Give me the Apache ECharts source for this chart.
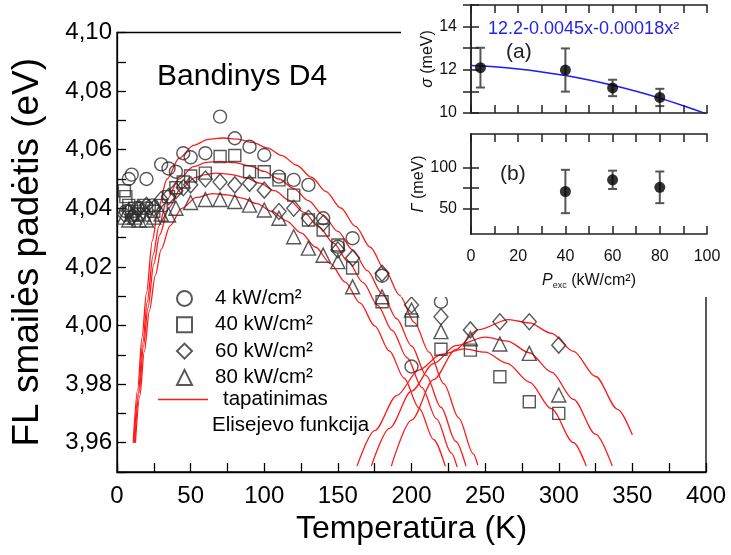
<!DOCTYPE html>
<html><head><meta charset="utf-8">
<script src="https://cdn.jsdelivr.net/npm/echarts@6/dist/echarts.min.js"></script>
<style>html,body{margin:0;padding:0;background:#fff}#c{width:731px;height:555px}</style>
</head><body><div id="c"></div>
<script>
const FONT = '"Liberation Sans", Arial, Helvetica, sans-serif';
const seriesNames = ['4 kW/cm²', '40 kW/cm²', '60 kW/cm²', '80 kW/cm²'];
const fitName = 'tapatinimas';
const fitNote = 'Elisejevo funkcija';
const sampleLabel = 'Bandinys D4';
const xTitle = 'Temperatūra (K)';
const yTitle = 'FL smailės padėtis (eV)';
const formulaText = '12.2-0.0045x-0.00018x²';

// data: temperature (K) and peak position (eV)
const circleT = [6, 8, 10, 14, 20, 24, 30, 35, 40, 45, 50, 60, 70, 80, 90, 100, 110, 120, 130, 140, 150, 160, 180, 200, 220];
const circleV = [4.039, 4.050, 4.0515, 4.040, 4.050, 4.041, 4.055, 4.0536, 4.0525, 4.0588, 4.0574, 4.0588, 4.0713, 4.0639, 4.061, 4.0582, 4.0508, 4.0497, 4.048, 4.0366, 4.0269, 4.0298, 4.017, 3.986, 4.0081];
const squareT = [5, 6, 8, 10, 12, 15, 18, 20, 25, 30, 35, 40, 45, 50, 60, 70, 80, 90, 100, 110, 120, 130, 140, 150, 160, 180, 200, 220, 240, 260, 280, 300];
const squareV = [4.046, 4.044, 4.041, 4.039, 4.040, 4.038, 4.041, 4.040, 4.039, 4.041, 4.044, 4.047, 4.049, 4.051, 4.052, 4.0577, 4.058, 4.0525, 4.0525, 4.0497, 4.0445, 4.036, 4.0326, 4.0275, 4.0196, 4.0081, 4.0019, 3.9919, 3.9916, 3.9825, 3.974, 3.970];
const diamondT = [5, 8, 10, 12, 15, 18, 20, 25, 30, 35, 40, 45, 50, 60, 70, 80, 90, 100, 110, 120, 130, 140, 150, 160, 180, 200, 220, 240, 260, 280, 300];
const diamondV = [4.038, 4.039, 4.037, 4.038, 4.040, 4.039, 4.041, 4.040, 4.043, 4.044, 4.046, 4.047, 4.048, 4.050, 4.049, 4.048, 4.0485, 4.0462, 4.0389, 4.040, 4.0366, 4.0349, 4.0258, 4.023, 4.0178, 4.007, 4.003, 3.9985, 4.0013, 4.0013, 3.9933];
const triangleT = [5, 8, 10, 12, 15, 18, 20, 25, 30, 35, 40, 50, 60, 70, 80, 90, 100, 110, 120, 130, 140, 150, 160, 180, 200, 220, 240, 260, 280, 300];
const triangleV = [4.037, 4.036, 4.038, 4.037, 4.036, 4.038, 4.036, 4.037, 4.038, 4.0377, 4.040, 4.042, 4.043, 4.043, 4.0423, 4.0411, 4.0394, 4.0366, 4.0303, 4.0264, 4.024, 4.0218, 4.0132, 4.0098, 4.0053, 3.9979, 3.9955, 3.9937, 3.9905, 3.9763];

// fitted Elisejev curves [T, E]
const fitCircleLow = [[11,3.96],[14,3.978],[17,3.996],[20,4.011],[24,4.029],[28,4.040],[34,4.050],[42,4.057],[52,4.0615],[62,4.0635],[72,4.064],[82,4.0636],[92,4.0625],[102,4.0606],[112,4.058],[122,4.0547],[132,4.0506],[142,4.0457],[152,4.0401],[162,4.0338],[172,4.0267],[182,4.0189],[192,4.0103],[202,4.001],[212,3.9909],[222,3.9801],[232,3.9685],[242,3.9562],[245,3.9524]];
const fitSquareLow = [[11.5,3.96],[14.5,3.977],[17.5,3.994],[20.5,4.008],[24.5,4.024],[28.5,4.034],[34,4.043],[42,4.050],[52,4.0542],[61,4.0557],[70,4.056],[80,4.0556],[90,4.0545],[100,4.0526],[110,4.05],[120,4.0467],[130,4.0426],[140,4.0377],[150,4.0321],[160,4.0258],[170,4.0187],[180,4.0109],[190,4.0023],[200,3.993],[210,3.9829],[220,3.9721],[230,3.9605],[237,3.952]];
const fitDiamondLow = [[12,3.96],[15,3.977],[18,3.993],[21,4.006],[25,4.021],[29,4.031],[35,4.040],[43,4.0465],[53,4.0505],[60,4.0515],[67,4.052],[77,4.0516],[87,4.0505],[97,4.0486],[107,4.046],[117,4.0427],[127,4.0386],[137,4.0337],[147,4.0281],[157,4.0218],[167,4.0147],[177,4.0069],[187,3.9983],[197,3.989],[207,3.9789],[217,3.9681],[227,3.9565],[231,3.9517]];
const fitTriangleLow = [[12.5,3.96],[15.5,3.976],[18.5,3.991],[22,4.005],[26,4.017],[30,4.026],[36,4.034],[44,4.040],[54,4.0437],[65,4.045],[75,4.0446],[85,4.0435],[95,4.0416],[105,4.039],[115,4.0357],[125,4.0316],[135,4.0267],[145,4.0211],[155,4.0148],[165,4.0077],[175,3.9999],[185,3.9913],[195,3.982],[205,3.9719],[215,3.9611],[223,3.9519]];
const fitSquareHigh = [[163,3.952],[175,3.9641],[190,3.9761],[205,3.9848],[220,3.9901],[236,3.992],[250,3.9909],[265,3.9871],[280,3.9807],[295,3.9716],[310,3.960],[318.7,3.952]];
const fitTriangleHigh = [[172.7,3.952],[185,3.9649],[200,3.9776],[215,3.987],[230,3.9931],[250,3.996],[265,3.9947],[280,3.9907],[295,3.9841],[310,3.9748],[325,3.9629],[336.4,3.952]];
const fitDiamondHigh = [[186.3,3.952],[200,3.9677],[215,3.9815],[230,3.9918],[245,3.9985],[266,4.002],[280,4.0009],[295,3.9973],[310,3.9912],[325,3.9826],[340,3.9714],[350,3.9626]];

// inset (a): sigma vs excitation power
const powerA = [4, 40, 60, 80];
const sigmaV = [12.1, 11.99, 11.16, 10.72];
const sigmaErr = [0.92, 1.0, 0.38, 0.4];
const sigmaFitX = [0, 10, 20, 30, 40, 50, 60, 70, 80, 90, 100];
const sigmaFitV = [12.2, 12.137, 12.038, 11.903, 11.732, 11.525, 11.282, 11.003, 10.688, 10.337, 9.95];
// inset (b): Gamma vs excitation power
const powerB = [40, 60, 80];
const gammaV = [71, 85, 76];
const gammaErr = [26, 11, 19];

const zip = (a, b) => a.map((v, i) => [v, b[i]]);
const zip3 = (a, b, c) => a.map((v, i) => [v, b[i], c[i]]);

const MK = '#2e2e2e';
const RED = '#ff1a1a';
const mkStyle = {color: 'rgba(0,0,0,0)', borderColor: MK, borderWidth: 1.4};

function scatter(name, sym, size, data) {
  return {type: 'scatter', name, symbol: sym, symbolSize: size, data, itemStyle: mkStyle, z: 3, xAxisIndex: 0, yAxisIndex: 0};
}
function fit(data) {
  return {type: 'line', name: fitName, data, showSymbol: false, symbol: 'none', smooth: 0.3, smoothMonotone: 'x',
    lineStyle: {color: RED, width: 1.3}, itemStyle: {color: RED}, z: 2, xAxisIndex: 0, yAxisIndex: 0};
}
function errBars(data, xi, yi) {
  return {type: 'custom', xAxisIndex: xi, yAxisIndex: yi, zlevel: 1, z: 5, data,
    renderItem: (p, api) => {
      const x = api.value(0), y = api.value(1), e = api.value(2);
      const t = api.coord([x, y + e]), b = api.coord([x, y - e]);
      const st = {stroke: '#555', lineWidth: 2};
      return {type: 'group', children: [
        {type: 'line', shape: {x1: t[0], y1: t[1], x2: b[0], y2: b[1]}, style: st},
        {type: 'line', shape: {x1: t[0] - 4.5, y1: t[1], x2: t[0] + 4.5, y2: t[1]}, style: st},
        {type: 'line', shape: {x1: b[0] - 4.5, y1: b[1], x2: b[0] + 4.5, y2: b[1]}, style: st}
      ]};
    }};
}

const insetLine = {lineStyle: {color: '#222', width: 1.5}};
const insetTick = {inside: true, length: 8, lineStyle: {color: '#222', width: 1.5}};
const insetLabel = {fontSize: 16, color: '#111', fontFamily: FONT};

const option = {
  animation: false,
  backgroundColor: '#fff',
  textStyle: {fontFamily: FONT},
  grid: [
    {left: 117, top: 32.5, width: 589, height: 439.5, show: true, borderColor: '#000', borderWidth: 1.3, backgroundColor: 'rgba(0,0,0,0)'},
    {left: 471, top: 5, width: 236, height: 108},
    {left: 471, top: 134, width: 236, height: 100}
  ],
  xAxis: [
    {gridIndex: 0, type: 'value', min: 0, max: 400, interval: 25,
      axisLine: {lineStyle: {color: '#000', width: 1.3}},
      axisTick: {inside: true, length: 9, lineStyle: {color: '#000', width: 1.3}},
      axisLabel: {fontSize: 24, color: '#000', margin: 12, formatter: v => (v % 50 === 0 ? String(v) : '')},
      splitLine: {show: false},
      name: xTitle, nameLocation: 'middle', nameGap: 38,
      nameTextStyle: {fontSize: 32, color: '#000', verticalAlign: 'top'}},
    {gridIndex: 1, type: 'value', min: 0, max: 100, interval: 10, zlevel: 1, z: 5,
      axisLine: insetLine, axisTick: insetTick, axisLabel: {show: false}, splitLine: {show: false}},
    {gridIndex: 1, type: 'value', min: 0, max: 100, interval: 10, position: 'top', zlevel: 1, z: 5,
      axisLine: insetLine, axisTick: insetTick, axisLabel: {show: false}, splitLine: {show: false}},
    {gridIndex: 2, type: 'value', min: 0, max: 100, interval: 10, zlevel: 1, z: 5,
      axisLine: insetLine, axisTick: insetTick,
      axisLabel: Object.assign({margin: 15, formatter: v => (v % 20 === 0 ? String(v) : '')}, insetLabel),
      splitLine: {show: false},
      name: '{i|P}{s|exc}{n| (kW/cm²)}', nameLocation: 'middle', nameGap: 38,
      nameTextStyle: {verticalAlign: 'top', rich: {
        i: {fontSize: 16, fontStyle: 'italic', color: '#111', fontFamily: FONT, lineHeight: 18},
        s: {fontSize: 9, color: '#111', fontFamily: FONT, lineHeight: 11, verticalAlign: 'bottom'},
        n: {fontSize: 16, color: '#111', fontFamily: FONT, lineHeight: 18}}}},
    {gridIndex: 2, type: 'value', min: 0, max: 100, interval: 10, position: 'top', zlevel: 1, z: 5,
      axisLine: insetLine, axisTick: insetTick, axisLabel: {show: false}, splitLine: {show: false}}
  ],
  yAxis: [
    {gridIndex: 0, type: 'value', min: 3.95, max: 4.10, interval: 0.01,
      axisLine: {lineStyle: {color: '#000', width: 1.3}},
      axisTick: {inside: true, length: 9, lineStyle: {color: '#000', width: 1.3}},
      axisLabel: {fontSize: 24, color: '#000', margin: 5, formatter: v => {
        const h = Math.round(v * 100);
        return h % 2 === 0 ? (h / 100).toFixed(2).replace('.', ',') : '';
      }},
      splitLine: {show: false},
      name: yTitle, nameLocation: 'middle', nameGap: 71,
      nameTextStyle: {fontSize: 37, color: '#000'}},
    {gridIndex: 1, type: 'value', min: 10, max: 15, interval: 1, zlevel: 1, z: 5,
      axisLine: insetLine, axisTick: insetTick,
      axisLabel: Object.assign({margin: 14, formatter: v => (v % 2 === 0 ? String(v) : '')}, insetLabel),
      splitLine: {show: false},
      name: '{i|σ}{n| (meV)}', nameLocation: 'middle', nameGap: 30,
      nameTextStyle: {rich: {
        i: {fontSize: 16, fontStyle: 'italic', color: '#111', fontFamily: FONT},
        n: {fontSize: 16, color: '#111', fontFamily: FONT}}}},
    {gridIndex: 1, type: 'value', min: 10, max: 15, interval: 1, position: 'right', zlevel: 1, z: 5,
      axisLine: insetLine, axisTick: insetTick, axisLabel: {show: false}, splitLine: {show: false}},
    {gridIndex: 2, type: 'value', min: 20, max: 140, zlevel: 1, z: 5,
      axisLine: insetLine, axisTick: Object.assign({customValues: [50, 75, 100]}, insetTick),
      axisLabel: Object.assign({margin: 14, customValues: [50, 100]}, insetLabel),
      splitLine: {show: false},
      name: '{i|Γ}{n| (meV)}', nameLocation: 'middle', nameGap: 38,
      nameTextStyle: {rich: {
        i: {fontSize: 16, fontStyle: 'italic', color: '#111', fontFamily: FONT},
        n: {fontSize: 16, color: '#111', fontFamily: FONT}}}},
    {gridIndex: 2, type: 'value', min: 20, max: 140, position: 'right', zlevel: 1, z: 5,
      axisLine: insetLine, axisTick: Object.assign({customValues: [50, 75, 100]}, insetTick),
      axisLabel: {show: false}, splitLine: {show: false}}
  ],
  legend: [
    {data: seriesNames, orient: 'vertical', left: 171, top: 283, itemWidth: 15, itemHeight: 15, itemGap: 5.3,
      selectedMode: false, textStyle: {fontSize: 20.5, color: '#000', fontFamily: FONT, lineHeight: 20, padding: [0, 0, 0, 18]}},
    {data: [{name: fitName, icon: 'rect'}], orient: 'vertical', left: 153, top: 384, itemWidth: 50, itemHeight: 1.6,
      selectedMode: false, textStyle: {fontSize: 20.5, color: '#000', fontFamily: FONT, lineHeight: 20, padding: [0, 0, 0, 10]}}
  ],
  graphic: [
    {type: 'rect', zlevel: 1, z: 0, shape: {x: 401, y: 0, width: 330, height: 297}, style: {fill: '#fff'}},
    {type: 'text', x: 157, y: 77, style: {text: sampleLabel, fontSize: 30, fontFamily: FONT, fill: '#000', verticalAlign: 'middle'}},
    {type: 'text', x: 212, y: 425, style: {text: fitNote, fontSize: 20.5, fontFamily: FONT, fill: '#000', verticalAlign: 'middle'}},
    {type: 'text', zlevel: 1, z: 10, x: 488, y: 29, style: {text: formulaText, fontSize: 18, fontFamily: FONT, fill: '#2424e6', verticalAlign: 'middle'}},
    {type: 'text', zlevel: 1, z: 10, x: 506, y: 52, style: {text: '(a)', fontSize: 21, fontFamily: FONT, fill: '#222', verticalAlign: 'middle'}},
    {type: 'text', zlevel: 1, z: 10, x: 500, y: 174, style: {text: '(b)', fontSize: 21, fontFamily: FONT, fill: '#222', verticalAlign: 'middle'}}
  ],
  series: [
    fit(fitCircleLow), fit(fitSquareLow), fit(fitDiamondLow), fit(fitTriangleLow),
    fit(fitSquareHigh), fit(fitTriangleHigh), fit(fitDiamondHigh),
    scatter(seriesNames[0], 'circle', 13, zip(circleT, circleV)),
    scatter(seriesNames[1], 'rect', 12, zip(squareT, squareV)),
    scatter(seriesNames[2], 'diamond', [14, 16], zip(diamondT, diamondV)),
    scatter(seriesNames[3], 'triangle', 14, zip(triangleT, triangleV)),
    {type: 'line', xAxisIndex: 1, yAxisIndex: 1, zlevel: 1, z: 4, data: zip(sigmaFitX, sigmaFitV), showSymbol: false, symbol: 'none',
      smooth: true, lineStyle: {color: '#1a1aff', width: 1.5}, clip: true},
    errBars(zip3(powerA, sigmaV, sigmaErr), 1, 1),
    {type: 'scatter', xAxisIndex: 1, yAxisIndex: 1, zlevel: 1, z: 6, symbol: 'circle', symbolSize: 11,
      itemStyle: {color: '#000'}, data: zip(powerA, sigmaV)},
    errBars(zip3(powerB, gammaV, gammaErr), 3, 3),
    {type: 'scatter', xAxisIndex: 3, yAxisIndex: 3, zlevel: 1, z: 6, symbol: 'circle', symbolSize: 11,
      itemStyle: {color: '#000'}, data: zip(powerB, gammaV)}
  ]
};
const chart = echarts.init(document.getElementById('c'), null, {renderer: 'canvas'});
chart.setOption(option);
</script></body></html>
